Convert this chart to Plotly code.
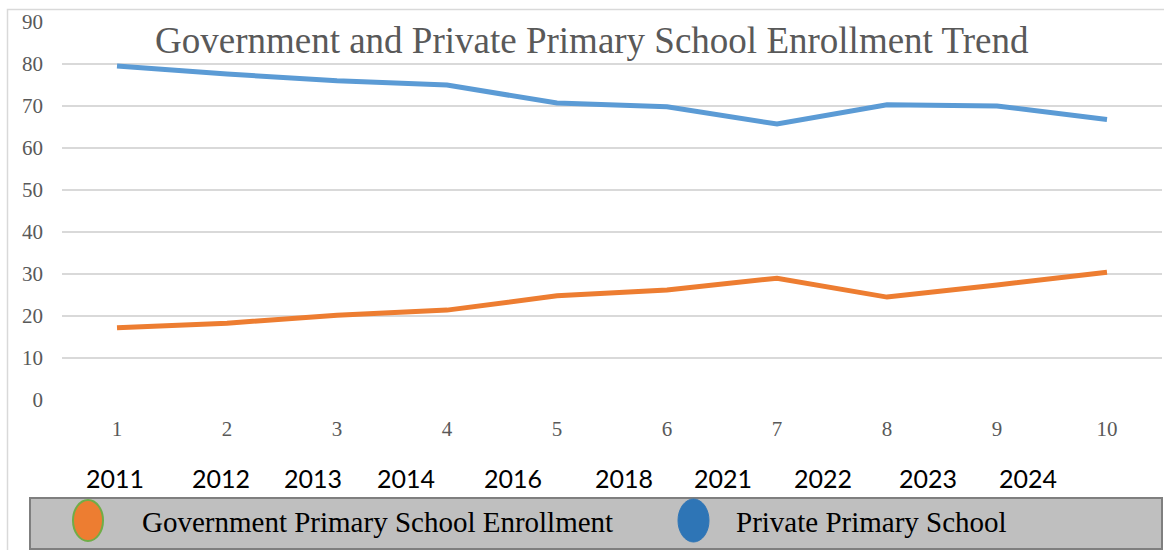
import plotly.graph_objects as go

# ---- data ----
periods = [1, 2, 3, 4, 5, 6, 7, 8, 9, 10]
government = [17.2, 18.3, 20.2, 21.4, 24.8, 26.2, 29.0, 24.5, 27.4, 30.4]
private = [79.5, 77.6, 76.0, 75.0, 70.7, 69.8, 65.7, 70.3, 70.0, 66.8]
year_labels = ["2011", "2012", "2013", "2014", "2016", "2018", "2021", "2022", "2023", "2024"]
title_text = "Government and Private Primary School Enrollment Trend"
series_names = ["Government Primary School Enrollment", "Private Primary School"]

# ---- layout geometry (pixels) ----
W, H = 1164, 550
ML, MR, MT, MB = 62, 2, 22, 150
PW, PH = W - ML - MR, H - MT - MB


def px(x):
    return (x - ML) / PW


def py(y):
    return (H - MB - y) / PH


year_px = [115, 221, 313, 406, 513, 624, 723, 823, 928, 1028]

fig = go.Figure()
fig.add_trace(go.Scatter(x=periods, y=private, mode="lines", name=series_names[1],
                         line=dict(color="#5b9bd5", width=5), showlegend=False))
fig.add_trace(go.Scatter(x=periods, y=government, mode="lines", name=series_names[0],
                         line=dict(color="#ed7d31", width=5), showlegend=False))

shapes = [
    # outer chart border
    dict(type="rect", xref="paper", yref="paper", x0=px(7.5), x1=px(1175), y0=py(560), y1=py(9.5),
         line=dict(color="#d9d9d9", width=1.5), fillcolor="rgba(0,0,0,0)", layer="below"),
    # legend box
    dict(type="rect", xref="paper", yref="paper", x0=px(30), x1=px(1162), y0=py(549), y1=py(498),
         line=dict(color="#7f7f7f", width=2), fillcolor="#bfbfbf"),
    # legend markers
    dict(type="circle", xref="paper", yref="paper", x0=px(73), x1=px(103), y0=py(541), y1=py(500),
         line=dict(color="#70ad47", width=2), fillcolor="#ed7d31"),
    dict(type="circle", xref="paper", yref="paper", x0=px(678), x1=px(709), y0=py(542), y1=py(499),
         line=dict(color="#2e75b6", width=1), fillcolor="#2e75b6"),
]

annotations = [
    dict(text=title_text, xref="paper", yref="paper", x=px(592), y=py(41),
         xanchor="center", yanchor="middle", showarrow=False,
         font=dict(family="Liberation Serif", size=37, color="#595959")),
    dict(text=series_names[0], xref="paper", yref="paper", x=px(140), y=py(522),
         xanchor="left", yanchor="middle", showarrow=False,
         font=dict(family="Liberation Serif", size=29, color="#000000")),
    dict(text=series_names[1], xref="paper", yref="paper", x=px(734), y=py(522),
         xanchor="left", yanchor="middle", showarrow=False,
         font=dict(family="Liberation Serif", size=29, color="#000000")),
]
for lab, xp in zip(year_labels, year_px):
    annotations.append(dict(text=lab, xref="paper", yref="paper", x=px(xp), y=py(478),
                            xanchor="center", yanchor="middle", showarrow=False,
                            font=dict(family="Lato", size=25, color="#000000")))

fig.update_layout(
    width=W, height=H, autosize=False,
    margin=dict(l=ML, r=MR, t=MT, b=MB, pad=0),
    paper_bgcolor="white", plot_bgcolor="white",
    shapes=shapes, annotations=annotations,
    xaxis=dict(range=[0.5, 10.5], tickvals=periods, ticktext=[str(p) for p in periods],
               showgrid=False, zeroline=False, showline=False, ticks="",
               ticklabelstandoff=14,
               tickfont=dict(family="Liberation Serif", size=21, color="#595959")),
    yaxis=dict(range=[0, 90], tickvals=list(range(0, 91, 10)),
               showgrid=True, gridcolor="#d9d9d9", gridwidth=1.5,
               zeroline=False, showline=False, ticks="",
               ticklabelstandoff=18,
               tickfont=dict(family="Liberation Serif", size=21, color="#595959")),
)

fig.write_html("out.html", config={"displayModeBar": False},
               post_script="document.body.style.margin='0';document.body.style.overflow='hidden';")
